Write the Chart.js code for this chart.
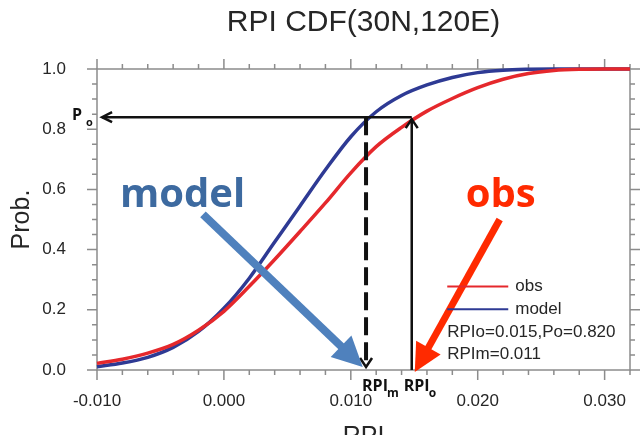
<!DOCTYPE html>
<html>
<head>
<meta charset="utf-8">
<title>RPI CDF</title>
<script src="https://cdn.jsdelivr.net/npm/chart.js@4"></script>
<style>
  html, body { margin: 0; padding: 0; background: #fff; }
</style>
</head>
<body>
<canvas id="cdf-chart" width="640" height="435"></canvas>
<script>
// RPI values along the x axis and the two cumulative curves
var rpi = [-0.010, -0.008, -0.006, -0.004, -0.002, 0.000, 0.002, 0.004, 0.006, 0.008, 0.010,
           0.012, 0.014, 0.016, 0.018, 0.020, 0.022, 0.024, 0.026, 0.028, 0.030, 0.032];
var obsCdf = [0.022, 0.036, 0.056, 0.085, 0.132, 0.195, 0.278, 0.367, 0.460, 0.555, 0.655,
              0.742, 0.806, 0.860, 0.902, 0.938, 0.966, 0.985, 0.995, 0.999, 1.000, 1.000];
var modelCdf = [0.011, 0.023, 0.042, 0.075, 0.128, 0.205, 0.305, 0.425, 0.545, 0.665, 0.775,
                0.858, 0.912, 0.947, 0.972, 0.988, 0.996, 0.999, 1.000, 1.000, 1.000, 1.000];

var xTickValues = [-0.010, 0.000, 0.010, 0.020, 0.030];
var xTickLabels = ['-0.010', '0.000', '0.010', '0.020', '0.030'];
var yTickValues = [0.0, 0.2, 0.4, 0.6, 0.8, 1.0];
var yTickLabels = ['0.0', '0.2', '0.4', '0.6', '0.8', '1.0'];

// numbers printed in the legend
var rpiObs = 0.015, pObs = 0.820, rpiModel = 0.011;

// where the helper arrows sit (data units)
var arrowP = 0.84, obsLineX = 0.0148, modelLineX = 0.0112, arrowLeftX = -0.0096;

var labelFont = '"Liberation Sans", Arial, sans-serif';
var boldFont = '"Open Sans", "Liberation Sans", sans-serif';

function toPoints(ys) {
  return rpi.map(function(v, i) { return {x: v, y: ys[i]}; });
}

function chevron(ctx, tx, ty, dx, dy, len, half) {
  var bx = tx - dx * len, by = ty - dy * len;
  ctx.beginPath();
  ctx.moveTo(bx - dy * half, by + dx * half);
  ctx.lineTo(tx, ty);
  ctx.lineTo(bx + dy * half, by - dx * half);
  ctx.stroke();
}

function fatArrow(ctx, x0, y0, x1, y1, color, width, len, half) {
  var d = Math.hypot(x1 - x0, y1 - y0);
  var ux = (x1 - x0) / d, uy = (y1 - y0) / d;
  var bx = x1 - ux * len, by = y1 - uy * len;
  ctx.strokeStyle = color;
  ctx.fillStyle = color;
  ctx.lineWidth = width;
  ctx.lineCap = 'butt';
  ctx.beginPath();
  ctx.moveTo(x0, y0);
  ctx.lineTo(bx + ux * 2, by + uy * 2);
  ctx.stroke();
  ctx.beginPath();
  ctx.moveTo(x1, y1);
  ctx.lineTo(bx - uy * half, by + ux * half);
  ctx.lineTo(bx + uy * half, by - ux * half);
  ctx.closePath();
  ctx.fill();
}

// NCL style box with minor/major ticks on all four sides
var frame = {
  id: 'frame',
  beforeDatasetsDraw: function(chart) {
    var ctx = chart.ctx, a = chart.chartArea, x = chart.scales.x, y = chart.scales.y;
    ctx.save();
    ctx.strokeStyle = '#8c8c8c';
    ctx.lineWidth = 1.5;
    ctx.strokeRect(a.left, a.top, a.right - a.left, a.bottom - a.top);
    ctx.beginPath();
    for (var i = 0; i <= 21; i++) {
      var px = x.getPixelForValue(-0.010 + i * 0.002);
      var len = i % 5 === 0 ? 10 : 5;
      ctx.moveTo(px, a.bottom); ctx.lineTo(px, a.bottom + len);
      ctx.moveTo(px, a.top); ctx.lineTo(px, a.top - len);
    }
    for (var j = 0; j <= 20; j++) {
      var py = y.getPixelForValue(j * 0.05);
      var len2 = j % 4 === 0 ? 10 : 5;
      ctx.moveTo(a.left, py); ctx.lineTo(a.left - len2, py);
      ctx.moveTo(a.right, py); ctx.lineTo(a.right + len2, py);
    }
    ctx.stroke();
    ctx.restore();
  }
};

// arrows, big labels and the legend box
var notes = {
  id: 'notes',
  afterDatasetsDraw: function(chart) {
    var ctx = chart.ctx, x = chart.scales.x, y = chart.scales.y;
    var px = function(v) { return x.getPixelForValue(v); };
    var py = function(v) { return y.getPixelForValue(v); };
    ctx.save();

    // horizontal arrow back to the Prob. axis
    var hy = py(arrowP);
    ctx.strokeStyle = '#111';
    ctx.lineWidth = 2.5;
    ctx.beginPath();
    ctx.moveTo(px(obsLineX), hy);
    ctx.lineTo(px(arrowLeftX), hy);
    ctx.stroke();
    chevron(ctx, px(arrowLeftX), hy, -1, 0, 10, 5);

    // dashed model line down to RPIm
    var mx = px(modelLineX), bottomY = py(0) - 3;
    ctx.lineWidth = 4;
    ctx.setLineDash([18, 7]);
    ctx.beginPath();
    ctx.moveTo(mx, hy);
    ctx.lineTo(mx, bottomY);
    ctx.stroke();
    ctx.setLineDash([]);
    ctx.lineWidth = 2.5;
    chevron(ctx, mx, bottomY, 0, 1, 9, 6);

    // solid obs line up from RPIo
    var ox = px(obsLineX);
    ctx.beginPath();
    ctx.moveTo(ox, py(0));
    ctx.lineTo(ox, hy + 2);
    ctx.stroke();
    chevron(ctx, ox, hy + 2, 0, -1, 9, 6);

    // P_o, RPI_m, RPI_o labels
    ctx.fillStyle = '#111';
    ctx.textBaseline = 'alphabetic';
    ctx.textAlign = 'left';
    var lx = px(-0.010);
    ctx.font = 'bold 16px ' + boldFont;
    ctx.fillText('P', lx - 25, hy + 3);
    ctx.font = 'bold 11px ' + boldFont;
    ctx.fillText('o', lx - 11, hy + 9);

    ctx.font = 'bold 16px ' + boldFont;
    ctx.fillText('RPI', mx - 4, py(0) + 21);
    ctx.fillText('RPI', ox - 8, py(0) + 21);
    ctx.font = 'bold 12px ' + boldFont;
    ctx.fillText('m', mx + 21, py(0) + 27);
    ctx.fillText('o', ox + 17, py(0) + 27);

    // big "model" / "obs" call-outs with their arrows
    fatArrow(ctx, px(-0.00165), py(0.517), px(0.01094), py(0.01), '#4f81bd', 8, 30, 15);
    fatArrow(ctx, px(0.02173), py(0.50), px(0.01504), py(-0.007), '#ff2a00', 7, 28, 14);
    ctx.font = 'bold 40px ' + boldFont;
    ctx.fillStyle = '#3d6aa0';
    ctx.fillText('model', px(-0.00819), py(0.54));
    ctx.fillStyle = '#ff2a00';
    ctx.fillText('obs', px(0.01906), py(0.54));

    // legend
    var gx = px(0.0176), gy = py(0.277), rowH = 22.7;
    ctx.font = '17px ' + labelFont;
    ctx.textBaseline = 'middle';
    chart.data.datasets.forEach(function(ds, i) {
      ctx.strokeStyle = ds.borderColor;
      ctx.lineWidth = 2;
      ctx.beginPath();
      ctx.moveTo(gx, gy + i * rowH);
      ctx.lineTo(gx + 61, gy + i * rowH);
      ctx.stroke();
      ctx.fillStyle = '#262626';
      ctx.fillText(ds.label, gx + 68, gy + i * rowH);
    });
    ctx.fillText('RPIo=' + rpiObs.toFixed(3) + ',Po=' + pObs.toFixed(3), gx, gy + 2 * rowH);
    ctx.fillText('RPIm=' + rpiModel.toFixed(3), gx, gy + 3 * rowH);

    ctx.restore();
  }
};

var ctx = document.getElementById('cdf-chart').getContext('2d');
var cdfChart = new Chart(ctx, {
  type: 'line',
  data: {
    datasets: [
      {
        label: 'obs',
        data: toPoints(obsCdf),
        borderColor: '#e5282c',
        borderWidth: 3.5,
        pointRadius: 0,
        cubicInterpolationMode: 'monotone',
        clip: 6
      },
      {
        label: 'model',
        data: toPoints(modelCdf),
        borderColor: '#2e3a94',
        borderWidth: 3.5,
        pointRadius: 0,
        cubicInterpolationMode: 'monotone',
        clip: 6
      }
    ]
  },
  options: {
    responsive: false,
    animation: false,
    events: [],
    layout: { padding: { left: 0, right: 10, top: 0, bottom: 0 } },
    plugins: {
      legend: { display: false },
      tooltip: { enabled: false },
      title: {
        display: true,
        fullSize: false,
        text: 'RPI CDF(30N,120E)',
        color: '#262626',
        font: { family: labelFont, size: 30, weight: 'normal' },
        padding: { top: 5, bottom: 28 }
      }
    },
    scales: {
      x: {
        type: 'linear',
        min: -0.010,
        max: 0.032,
        grid: { display: false },
        border: { display: false },
        afterBuildTicks: function(s) {
          s.ticks = xTickValues.map(function(v) { return {value: v}; });
        },
        afterFit: function(s) { s.height = 65; },
        ticks: {
          autoSkip: false,
          maxRotation: 0,
          padding: 13,
          color: '#262626',
          font: { family: labelFont, size: 17 },
          callback: function(v, i) { return xTickLabels[i]; }
        },
        title: {
          display: true,
          text: 'RPI',
          color: '#262626',
          font: { family: labelFont, size: 25 },
          padding: { top: 0, bottom: -17 }
        }
      },
      y: {
        min: 0,
        max: 1,
        grid: { display: false },
        border: { display: false },
        afterBuildTicks: function(s) {
          s.ticks = yTickValues.map(function(v) { return {value: v}; });
        },
        afterFit: function(s) { s.width = 97; },
        ticks: {
          padding: 23,
          color: '#262626',
          font: { family: labelFont, size: 17 },
          callback: function(v, i) { return yTickLabels[i]; }
        },
        title: {
          display: true,
          text: 'Prob.',
          color: '#262626',
          font: { family: labelFont, size: 25 },
          padding: { top: 7, bottom: 0 }
        }
      }
    }
  },
  plugins: [frame, notes]
});
</script>
</body>
</html>
